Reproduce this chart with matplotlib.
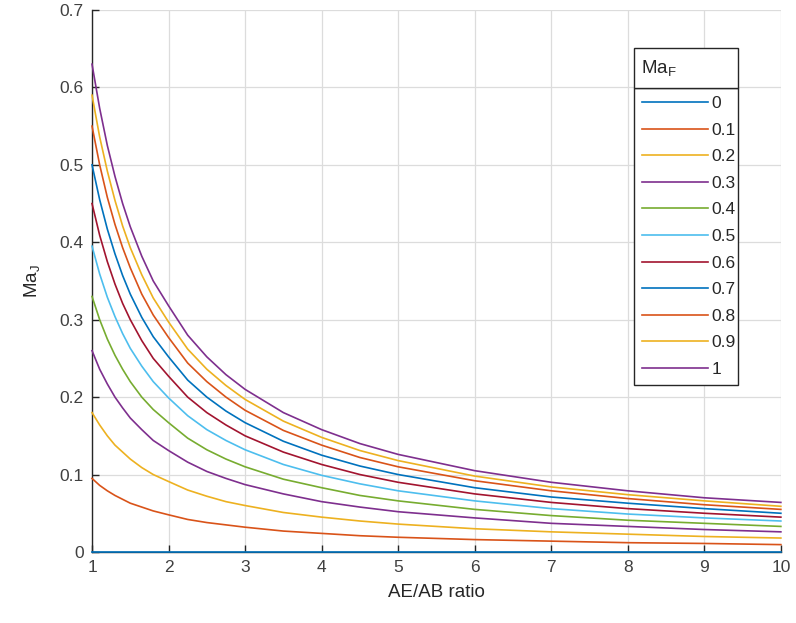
import matplotlib.pyplot as plt
from matplotlib.patches import Rectangle

plt.rcParams['font.family'] = ['Liberation Sans', 'DejaVu Sans']

# AE/AB ratio sample points
ratio = [1, 1.1, 1.2, 1.3, 1.4, 1.5, 1.65, 1.8, 2, 2.25, 2.5, 2.75,
         3, 3.5, 4, 4.5, 5, 6, 7, 8, 9, 10]

# Ma_F values (legend)
ma_f = ['0', '0.1', '0.2', '0.3', '0.4', '0.5', '0.6', '0.7', '0.8', '0.9', '1']

# Ma_J read for each Ma_F curve
ma_j_00 = [0] * len(ratio)
ma_j_01 = [0.095, 0.086, 0.079, 0.073, 0.068, 0.063, 0.058, 0.053, 0.048, 0.042, 0.038,
           0.035, 0.032, 0.027, 0.024, 0.021, 0.019, 0.016, 0.014, 0.012, 0.011, 0.0095]
ma_j_02 = [0.180, 0.164, 0.150, 0.138, 0.129, 0.120, 0.109, 0.100, 0.091, 0.080, 0.072,
           0.065, 0.060, 0.051, 0.045, 0.040, 0.036, 0.030, 0.026, 0.023, 0.020, 0.018]
ma_j_03 = [0.260, 0.236, 0.217, 0.200, 0.186, 0.173, 0.158, 0.144, 0.131, 0.116, 0.104,
           0.095, 0.087, 0.075, 0.065, 0.058, 0.052, 0.044, 0.037, 0.033, 0.029, 0.026]
ma_j_04 = [0.330, 0.300, 0.275, 0.254, 0.236, 0.220, 0.200, 0.184, 0.167, 0.147, 0.132,
           0.120, 0.110, 0.094, 0.083, 0.073, 0.066, 0.055, 0.047, 0.041, 0.037, 0.033]
ma_j_05 = [0.395, 0.359, 0.329, 0.304, 0.282, 0.263, 0.240, 0.220, 0.199, 0.176, 0.158,
           0.144, 0.132, 0.113, 0.099, 0.088, 0.079, 0.066, 0.056, 0.049, 0.044, 0.040]
ma_j_06 = [0.450, 0.409, 0.375, 0.346, 0.321, 0.300, 0.273, 0.250, 0.227, 0.200, 0.180,
           0.164, 0.150, 0.129, 0.113, 0.100, 0.090, 0.075, 0.064, 0.056, 0.050, 0.045]
ma_j_07 = [0.500, 0.455, 0.417, 0.385, 0.357, 0.333, 0.303, 0.278, 0.252, 0.222, 0.200,
           0.182, 0.167, 0.143, 0.125, 0.111, 0.100, 0.083, 0.071, 0.063, 0.056, 0.050]
ma_j_08 = [0.550, 0.500, 0.458, 0.423, 0.393, 0.367, 0.333, 0.306, 0.277, 0.244, 0.220,
           0.200, 0.183, 0.157, 0.138, 0.122, 0.110, 0.092, 0.079, 0.069, 0.061, 0.055]
ma_j_09 = [0.590, 0.536, 0.492, 0.454, 0.421, 0.393, 0.358, 0.328, 0.297, 0.262, 0.236,
           0.215, 0.197, 0.169, 0.148, 0.131, 0.118, 0.098, 0.084, 0.074, 0.066, 0.059]
ma_j_10 = [0.630, 0.573, 0.525, 0.485, 0.450, 0.420, 0.382, 0.350, 0.318, 0.280, 0.252,
           0.229, 0.210, 0.180, 0.158, 0.140, 0.126, 0.105, 0.090, 0.079, 0.070, 0.064]

curves = [ma_j_00, ma_j_01, ma_j_02, ma_j_03, ma_j_04, ma_j_05,
          ma_j_06, ma_j_07, ma_j_08, ma_j_09, ma_j_10]

# MATLAB default color order
colors = ['#0072BD', '#D95319', '#EDB120', '#7E2F8E', '#77AC30',
          '#4DBEEE', '#A2142F']

fig = plt.figure(figsize=(7.96, 6.23), dpi=100)
ax = fig.add_axes([0.1156, 0.114, 0.8654, 0.870])

for i, (y, lab) in enumerate(zip(curves, ma_f)):
    ax.plot(ratio, y, color=colors[i % len(colors)], lw=1.2, label=lab,
            clip_on=False, zorder=3)

ax.set_xlim(1, 10)
ax.set_ylim(0, 0.7)
ax.set_xticks(range(1, 11))
ax.set_yticks([0, 0.1, 0.2, 0.3, 0.4, 0.5, 0.6, 0.7])
ax.set_yticklabels(['0', '0.1', '0.2', '0.3', '0.4', '0.5', '0.6', '0.7'])
ax.grid(True, color='#dcdcdc', lw=0.9)
ax.set_axisbelow(True)
for s in ['top', 'right']:
    ax.spines[s].set_visible(False)
for s in ['left', 'bottom']:
    ax.spines[s].set_color('#262626')
    ax.spines[s].set_linewidth(1.0)
ax.tick_params(direction='in', length=5, width=1, colors='#262626',
               labelsize=12.5, pad=6)
ax.tick_params(axis='both', labelcolor='#404040')

ax.set_xlabel('AE/AB ratio', fontsize=13.5, color='#262626', labelpad=6)
ax.set_ylabel(r'Ma$_\mathregular{J}$', fontsize=13.5, color='#262626', labelpad=12)

# legend body
W, H = 796, 623
leg = ax.legend(loc='upper left',
                bbox_to_anchor=(634 / W, 1 - 382 / H, 104 / W, 294 / H),
                bbox_transform=fig.transFigure, mode='expand',
                fontsize=12.5, handlelength=3.8, handletextpad=0.2,
                labelspacing=0.66, borderpad=0.45, borderaxespad=0,
                fancybox=False, framealpha=1, edgecolor='#262626')
leg.get_frame().set_linewidth(1.0)
for t in leg.get_texts():
    t.set_color('#262626')

# legend title box (separate box like MATLAB)
fig.patches.append(Rectangle((634 / W, 1 - 88 / H), 104 / W, 40 / H,
                             transform=fig.transFigure, facecolor='white',
                             edgecolor='#262626', lw=1.0, zorder=5))
fig.text(641 / W, 1 - 69 / H, r'Ma$_\mathregular{F}$', fontsize=13.5,
         color='#262626', va='center', ha='left', zorder=6)

fig.savefig('out.png', dpi=100)
